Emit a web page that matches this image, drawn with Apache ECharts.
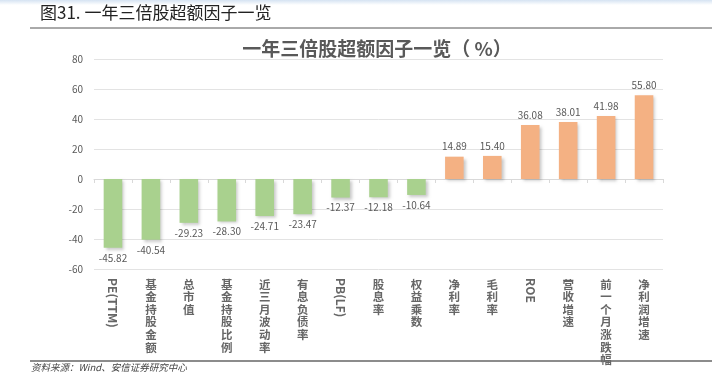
<!DOCTYPE html>
<html><head><meta charset="utf-8">
<script src="https://cdn.jsdelivr.net/npm/echarts@6/dist/echarts.min.js"></script>
<style>html,body{margin:0;padding:0;background:#fff}#c{width:712px;height:378px}</style>
</head><body><div id="c"></div>
<script>
const categories = ['PE(TTM)','基金持股金额','总市值','基金持股比例','近三月波动率','有息负债率','PB(LF)','股息率','权益乘数','净利率','毛利率','ROE','营收增速','前一个月涨跌幅','净利润增速'];
const values = [-45.82,-40.54,-29.23,-28.30,-24.71,-23.47,-12.37,-12.18,-10.64,14.89,15.40,36.08,38.01,41.98,55.80];
const yTicks = {min:-60, max:80, interval:20};
const chartTitle = '一年三倍股超额因子一览（ %）';
const header = '图31. 一年三倍股超额因子一览';
const source = '资料来源：Wind、安信证券研究中心';
</script>
<script>
const isLatin = s => /^[\x00-\x7f]+$/.test(s);
const font = '"Noto Sans CJK SC","Microsoft YaHei",sans-serif';
const chart = echarts.init(document.getElementById('c'));
chart.setOption({
  animation:false,
  title:{text:chartTitle,left:372,textAlign:'center',top:34,textStyle:{fontSize:19,fontWeight:'bold',color:'#595959',fontFamily:font}},
  grid:{left:94,right:49,top:59,bottom:109},
  xAxis:[{
    type:'category',data:categories,position:'bottom',
    axisLine:{onZero:true,lineStyle:{color:'#d9d9d9'}},
    axisTick:{show:true,length:4,lineStyle:{color:'#d9d9d9'}},
    axisLabel:{interval:0,margin:9,fontSize:11.5,fontWeight:'bold',color:'#666',fontFamily:font,lineHeight:12.6,verticalAlign:'top',
      formatter:v=>isLatin(v)?'':v.split('').join('\n')}
  },{
    type:'category',data:categories,position:'bottom',
    axisLine:{show:false},axisTick:{show:false},
    axisLabel:{interval:0,rotate:-90,margin:9,fontSize:12,fontWeight:'bold',color:'#666',fontFamily:font,
      formatter:v=>isLatin(v)?v:''}
  }],
  yAxis:{type:'value',min:yTicks.min,max:yTicks.max,interval:yTicks.interval,
    axisLine:{show:false},axisTick:{show:false},
    axisLabel:{fontSize:10,color:'#595959',margin:11,fontFamily:font},
    splitLine:{lineStyle:{color:'#e3e3e3'}}},
  series:[{
    type:'bar',barWidth:'49%',
    data:values.map(v=>({value:v,itemStyle:{color:v<0?'#a9d18e':'#f4b183'},
      label:{position:v<0?'bottom':'top'}})),
    itemStyle:{shadowBlur:3,shadowOffsetX:2,shadowOffsetY:2,shadowColor:'rgba(0,0,0,0.22)'},
    label:{show:true,fontSize:10,color:'#595959',fontFamily:font,distance:5,formatter:p=>p.value.toFixed(2)}
  }],
  graphic:[
    {type:'rect',shape:{x:0,y:0,width:712,height:5},style:{fill:new echarts.graphic.LinearGradient(0,0,0,1,[{offset:0,color:'#d5e3f2'},{offset:1,color:'#ffffff'}])}},
    {type:'text',left:40,top:4,style:{text:header,fontSize:17,fontWeight:'normal',fill:'#222',fontFamily:font}},
    {type:'line',shape:{x1:30,y1:28,x2:712,y2:28},style:{stroke:'#555',lineWidth:1}},
    {type:'line',shape:{x1:30,y1:361,x2:712,y2:361},style:{stroke:'#666',lineWidth:1.5}},
    {type:'text',left:31,top:363,style:{text:source,fontSize:9.5,fontStyle:'italic',fill:'#444',fontFamily:font}}
  ]
});
</script></body></html>
